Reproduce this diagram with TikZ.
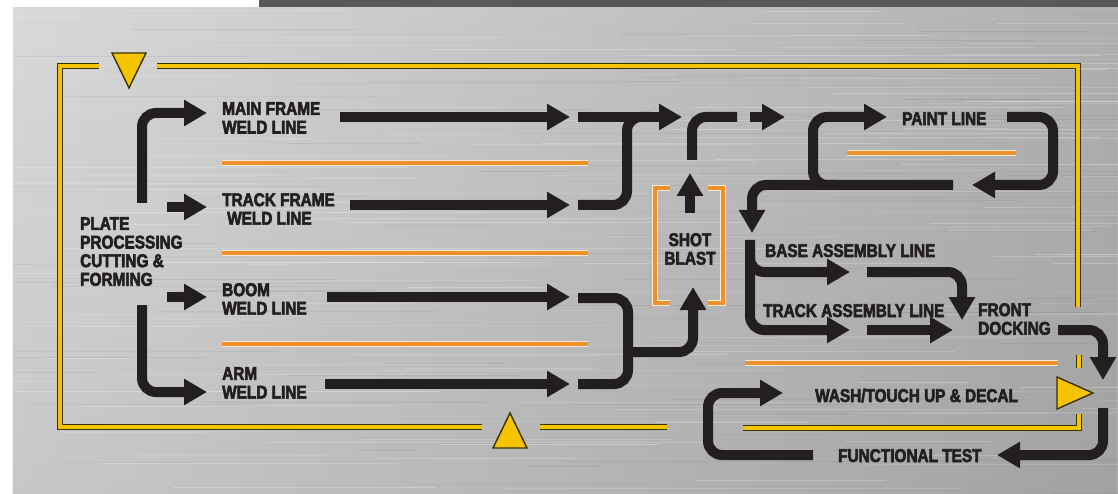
\documentclass[tikz,border=0pt]{standalone}
\usepackage{fontspec}
\usetikzlibrary{arrows.meta,fadings}
\newfontfamily\lblfont{Liberation Sans}[FakeStretch=0.83, BoldFeatures={FakeBold=3}]
\definecolor{ink}{HTML}{231F20}
\definecolor{cat}{HTML}{F4C400}
\definecolor{catedge}{HTML}{3A3200}
\definecolor{orng}{HTML}{F0902A}
\definecolor{orhalo}{HTML}{FCEBD6}
\definecolor{topbar}{HTML}{58585A}
\definecolor{metalA}{HTML}{D9D9D9}
\definecolor{metalB}{HTML}{E2E2E2}
\definecolor{metalC}{HTML}{B0B0B0}
\begin{document}
\begin{tikzpicture}[x=1pt,y=-1pt,
  lbl/.style={font=\lblfont\bfseries\fontsize{18.5}{18.6}\selectfont, text=ink, inner sep=0pt, align=left},
  flow/.style={draw=ink, line width=10pt, rounded corners=14pt},
  flowarrow/.style={flow, -{Triangle[width=25pt,length=23pt]}},
  frameline/.style={draw=catedge, line width=1pt, double=cat, double distance=3.2pt},
  sepline/.style={draw=orhalo, line width=1.2pt, double=orng, double distance=3.8pt},
  marker/.style={fill=cat, draw=catedge, line width=1.4pt, line join=miter}]
\useasboundingbox (0,0) rectangle (1118,494);
% background
\fill[white] (0,0) rectangle (1118,494);
\fill[topbar] (259,0) rectangle (1118,8);
\shade[left color=metalA, middle color=metalB, right color=metalC] (13,8) rectangle (1118,494);
\fill[black, path fading=north, opacity=0.08] (13,8) rectangle (1118,494);
\begin{scope}
  \clip (13,8) rectangle (1118,494);
  \pgfmathsetseed{7}
  \foreach \i in {1,...,160}{
    \pgfmathsetmacro{\yy}{8+486*rnd}
    \pgfmathsetmacro{\xa}{-100+1200*rnd}
    \pgfmathsetmacro{\ll}{80+400*rnd}
    \pgfmathsetmacro{\op}{0.08+0.18*rnd}
    \draw[white, opacity=\op, line width=0.8pt] (\xa,\yy) -- ++(\ll,0);
  }
  \foreach \i in {1,...,100}{
    \pgfmathsetmacro{\yy}{8+486*rnd}
    \pgfmathsetmacro{\xa}{-100+1200*rnd}
    \pgfmathsetmacro{\ll}{60+300*rnd}
    \pgfmathsetmacro{\op}{0.02+0.05*rnd}
    \draw[black, opacity=\op, line width=0.6pt] (\xa,\yy) -- ++(\ll,0);
  }
\end{scope}

% yellow frame
\draw[frameline] (99,66) -- (60,66) -- (60,427) -- (482,427);
\draw[frameline] (540,427) -- (667,427);
\draw[frameline] (157,66) -- (1078,66) -- (1078,307);
\draw[frameline] (1079,355) -- (1079,368);
\draw[frameline] (1079,414) -- (1079,428) -- (743,428);
\draw[marker] (112,53) -- (146,53) -- (129,88) -- cycle;
\draw[marker] (493,448) -- (527,448) -- (510,413) -- cycle;
\draw[marker] (1057,377) -- (1057,409) -- (1093,393) -- cycle;

% orange separators
\draw[sepline] (222,163) -- (588,163);
\draw[sepline] (222,253) -- (588,253);
\draw[sepline] (222,344) -- (588,344);
\draw[sepline] (847,153) -- (1016,153);
\draw[sepline] (745,363) -- (1058,363);
% shot blast brackets
\draw[sepline] (670,188) -- (655,188) -- (655,303) -- (670,303);
\draw[sepline] (708,188) -- (723,188) -- (723,303) -- (708,303);

% labels
\node[lbl, anchor=north west] (plate) at (80,217) {PLATE\\PROCESSING\\CUTTING \&\\FORMING};
\node[lbl, anchor=north west] (mainframe) at (222,102) {MAIN FRAME\\WELD LINE};
\node[lbl, anchor=north west] (trackframe) at (222,193) {TRACK FRAME\\\hspace*{5pt}WELD LINE};
\node[lbl, anchor=north west] (boom) at (222,283) {BOOM\\WELD LINE};
\node[lbl, anchor=north west] (arm) at (222,367) {ARM\\WELD LINE};
\node[lbl, align=center, anchor=north] (shot) at (690,233) {SHOT\\BLAST};
\node[lbl, anchor=base west] (paint) at (902,125) {PAINT LINE};
\node[lbl, anchor=base west] (baseasm) at (765,257) {BASE ASSEMBLY LINE};
\node[lbl, anchor=base west] (trackasm) at (763,317) {TRACK ASSEMBLY LINE};
\node[lbl, anchor=north west] (front) at (978,303) {FRONT\\DOCKING};
\node[lbl, anchor=base west] (wash) at (815,402) {WASH/TOUCH UP \& DECAL};
\node[lbl, anchor=base west] (functest) at (838,462) {FUNCTIONAL TEST};

% connector end points
\coordinate (plUp) at (142,203);   \coordinate (mfIn) at (207,113);
\coordinate (tfA) at (167,207);    \coordinate (tfIn) at (207,207);
\coordinate (bmA) at (167,297);    \coordinate (bmIn) at (207,297);
\coordinate (plDn) at (142,305);   \coordinate (arIn) at (207,392);
\coordinate (mfOut) at (340,117);  \coordinate (mfEnd) at (570,117);
\coordinate (tfOut) at (350,205);  \coordinate (tfEnd) at (570,205);
\coordinate (bmOut) at (327,297);  \coordinate (bmEnd) at (570,297);
\coordinate (arOut) at (325,384);  \coordinate (arEnd) at (570,384);
\coordinate (mgA) at (578,117);    \coordinate (mgTip) at (682,117);
\coordinate (mgB) at (578,205);    \coordinate (mgJoin) at (650,117);
\coordinate (mgC) at (578,298);    \coordinate (mgD) at (578,384);
\coordinate (mgMid) at (628,352);  \coordinate (sbIn) at (693,287);
\coordinate (sbA) at (690,213);    \coordinate (sbB) at (690,173);
\coordinate (sbC) at (692,160);    \coordinate (sbD) at (737,117);
\coordinate (shA) at (750,117);    \coordinate (shB) at (785,117);
\coordinate (pnA) at (835,185);    \coordinate (pnIn) at (887,117);
\coordinate (pnOut) at (1007,117); \coordinate (pnRet) at (972,185);
\coordinate (pnB) at (953,185);    \coordinate (asTop) at (752,233);
\coordinate (asA) at (750,240);    \coordinate (taIn) at (850,330);
\coordinate (asB) at (750,255);    \coordinate (baIn) at (850,272);
\coordinate (baOut) at (867,272);  \coordinate (fdA) at (962,320);
\coordinate (taOut) at (867,330);  \coordinate (fdB) at (953,330);
\coordinate (fdOut) at (1058,330); \coordinate (fdEnd) at (1103,380);
\coordinate (ftA) at (1103,408);   \coordinate (ftIn) at (997,455);
\coordinate (ftOut) at (813,455);  \coordinate (waIn) at (783,393);

% flow arrows, left
\draw[flowarrow] (plUp) |- (mfIn);
\draw[flowarrow] (tfA) -- (tfIn);
\draw[flowarrow] (bmA) -- (bmIn);
\draw[flowarrow] (plDn) |- (arIn);
\draw[flowarrow] (mfOut) -- (mfEnd);
\draw[flowarrow] (tfOut) -- (tfEnd);
\draw[flowarrow] (bmOut) -- (bmEnd);
\draw[flowarrow] (arOut) -- (arEnd);
% merges
\draw[flowarrow] (mgA) -- (mgTip);
\draw[flow] (mgB) -- (627,205) -- (627,117) -- (mgJoin);
\draw[flow] (mgC) -- (628,298) -- (628,384) -- (mgD);
\draw[flowarrow] (mgMid) -| (sbIn);
% shot blast
\draw[flowarrow] (sbA) -- (sbB);
\draw[flow] (sbC) |- (sbD);
\draw[flowarrow] (shA) -- (shB);
% paint loop
\draw[flowarrow] (pnA) -- (813,185) -- (813,117) -- (pnIn);
\draw[flowarrow] (pnOut) -- (1053,117) -- (1053,185) -- (pnRet);
\draw[flowarrow] (pnB) -- (752,185) -- (asTop);
% assembly
\draw[flowarrow] (asA) |- (taIn);
\draw[flowarrow] (asB) |- (baIn);
\draw[flowarrow] (baOut) -| (fdA);
\draw[flowarrow] (taOut) -- (fdB);
\draw[flowarrow] (fdOut) -| (fdEnd);
% final loop
\draw[flowarrow] (ftA) |- (ftIn);
\draw[flowarrow] (ftOut) -- (708,455) -- (708,393) -- (waIn);
\end{tikzpicture}
\end{document}
